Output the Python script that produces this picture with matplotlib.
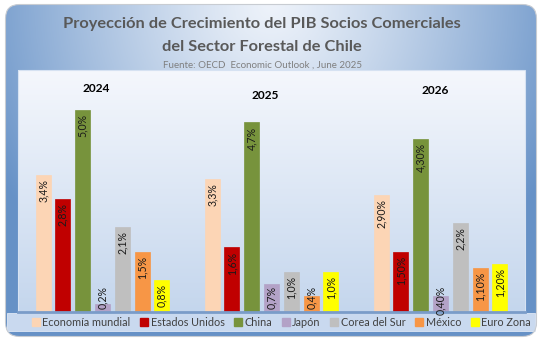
import numpy as np
import matplotlib
matplotlib.use("Agg")
import matplotlib.pyplot as plt
from matplotlib.patches import FancyBboxPatch, Rectangle
from matplotlib.lines import Line2D

# ---- data -------------------------------------------------------------
years = ["2024", "2025", "2026"]
series = ["Economía mundial", "Estados Unidos", "China", "Japón",
          "Corea del Sur", "México", "Euro Zona"]
economia_mundial = [3.4, 3.3, 2.9]
estados_unidos = [2.8, 1.6, 1.5]
china = [5.0, 4.7, 4.3]
japon = [0.2, 0.7, 0.4]
corea_del_sur = [2.1, 1.0, 2.2]
mexico = [1.5, 0.4, 1.1]
euro_zona = [0.8, 1.0, 1.2]
# decimals shown in each value label (per series, per year)
label_decimals = [
    [1, 1, 2],
    [1, 1, 2],
    [1, 1, 2],
    [1, 1, 2],
    [1, 1, 1],
    [1, 1, 2],
    [1, 1, 2],
]
colors = ["#fcd5b5", "#c00000", "#77933c", "#b3a2c7",
          "#bfbfbf", "#f79646", "#ffff00"]

values = [economia_mundial, estados_unidos, china, japon,
          corea_del_sur, mexico, euro_zona]

FONT = ["Lato", "DejaVu Sans"]
plt.rcParams["font.family"] = FONT

W, H = 544, 343
fig = plt.figure(figsize=(W / 100, H / 100), dpi=100)
fig.patch.set_facecolor("white")

# ---- outer rounded panel with a blue gradient ------------------------
bg = fig.add_axes([0, 0, 1, 1], zorder=0)
bg.set_xlim(0, W)
bg.set_ylim(H, 0)
bg.axis("off")

gx = np.linspace(0, 1, 300)
gy = np.linspace(0, 1, 200)
X, Y = np.meshgrid(gx, gy)
d = np.sqrt(((X - 0.5) / 0.6) ** 2 + (Y / 1.0) ** 2)
d = np.clip(d, 0, 1) ** 1.2
light = np.array([0.93, 0.95, 0.98])
dark = np.array([0.40, 0.57, 0.78])
img = light[None, None, :] + (dark - light)[None, None, :] * d[..., None]

panel = FancyBboxPatch((5.5, 4.5), 531, 332, boxstyle="round,pad=0,rounding_size=14",
                       facecolor="none", edgecolor="#c8ccd2", linewidth=0.8,
                       transform=bg.transData, zorder=3)
bg.add_patch(panel)
im = bg.imshow(img, extent=(5.5, 536.5, 336.5, 4.5), aspect="auto", zorder=1)
im.set_clip_path(panel)

# legend strip
bg.add_patch(Rectangle((7, 313), 528, 18, facecolor="#c9d9ef",
                       edgecolor="#dfe8f5", linewidth=0.6, zorder=2))

# inner plot area gradient
py = np.linspace(0, 1, 100)[:, None]
top = np.array([0.96, 0.97, 0.99])
bot = np.array([0.77, 0.84, 0.93])
pimg = top[None, :] + (bot - top)[None, :] * py[..., None]
pimg = np.repeat(pimg, 2, axis=1)
bg.imshow(pimg, extent=(18, 525, 312, 70), aspect="auto", zorder=2)
bg.add_patch(Rectangle((18, 70), 507, 242, facecolor="none",
                       edgecolor="#d6e2f2", linewidth=0.8, zorder=2))

# ---- titles ----------------------------------------------------------
fig.text(0.482, 1 - 24 / H, "Proyección de Crecimiento del PIB Socios Comerciales",
         ha="center", va="center", fontsize=11.8, fontweight="bold", color="#595959")
fig.text(0.482, 1 - 47 / H, "del Sector Forestal de Chile",
         ha="center", va="center", fontsize=11.8, fontweight="bold", color="#595959")
fig.text(0.482, 1 - 65.5 / H, "Fuente: OECD  Economic Outlook , June 2025",
         ha="center", va="center", fontsize=7.0, color="#7f7f7f")

# ---- bars ------------------------------------------------------------
ax = fig.add_axes([18 / W, 31 / H, 507 / W, 242 / H], zorder=5)
ax.patch.set_alpha(0)
ax.set_xlim(-0.5, 2.5)
ax.set_ylim(0, 6)
for s in ax.spines.values():
    s.set_visible(False)
ax.set_xticks([])
ax.set_yticks([])
ax.axhline(0, color="#7a9cc9", linewidth=2.0, zorder=6, clip_on=False)

x = np.arange(len(years))
pitch = 0.1173
width = 0.089
for i, (name, vals, col) in enumerate(zip(series, values, colors)):
    xs = x + (i - 3) * pitch
    ax.bar(xs, vals, width=width, color=col, edgecolor=col, linewidth=0.5,
           label=name, zorder=3)
    for xi, v, dec in zip(xs, vals, label_decimals[i]):
        txt = f"{v:.{dec}f}%".replace(".", ",")
        ytop = max(v - 0.1, 0.64)
        ax.text(xi, ytop, txt, rotation=90, ha="center", va="top",
                fontsize=7.6, color="#1a1a1a", zorder=7)

# year headings inside the plot
year_pos = [(-0.035, 5.55), (0.965, 5.38), (1.97, 5.5)]
for yr, (xp, yp) in zip(years, year_pos):
    ax.text(xp, yp, yr, ha="center", va="center", fontsize=8.6,
            fontweight="bold", color="black", zorder=7)

# ---- legend ----------------------------------------------------------
handles = [Line2D([], [], marker="s", linestyle="none", markersize=6,
                  markerfacecolor=c, markeredgecolor=c) for c in colors]
leg = fig.legend(handles, series, loc="center", ncol=7,
                 bbox_to_anchor=(0.516, 1 - 322 / H), frameon=False,
                 fontsize=7.8, handletextpad=0.1, columnspacing=0.75,
                 handlelength=1.0, borderaxespad=0)
for t in leg.get_texts():
    t.set_color("#404040")

fig.savefig("out.png", dpi=100, facecolor="white")
